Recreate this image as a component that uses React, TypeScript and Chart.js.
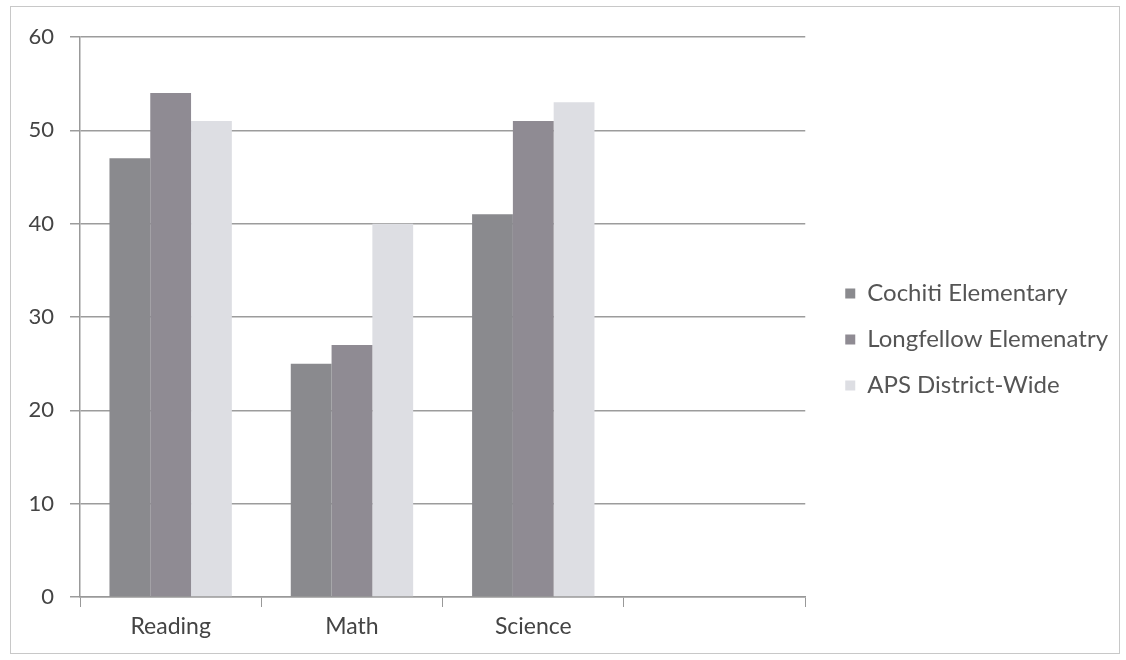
import React, { useEffect, useRef } from "react";
import { Chart, registerables } from "chart.js";

Chart.register(...registerables);

const categories = ["Reading", "Math", "Science", ""];
const cochiti = [47, 25, 41, null];
const longfellow = [54, 27, 51, null];
const apsDistrict = [51, 40, 53, null];
const seriesNames = ["Cochiti Elementary", "Longfellow Elemenatry", "APS District-Wide"];
const yTicks = [0, 10, 20, 30, 40, 50, 60];

const FONT = "Lato, 'Open Sans', sans-serif";

const legendGap = {
  id: "legendGap",
  afterLayout(chart: any) {
    const l = chart.legend;
    if (l) {
      l.left += 18;
      l.right += 18;
      l.top -= 4;
      l.bottom -= 4;
    }
  },
};

export default function App() {
  const ref = useRef<HTMLCanvasElement | null>(null);
  useEffect(() => {
    if (!ref.current) return;
    const chart = new Chart(ref.current, {
      type: "bar",
      data: {
        labels: categories,
        datasets: [
          { label: seriesNames[0], data: cochiti, backgroundColor: "#8a8a8e", borderWidth: 0 },
          { label: seriesNames[1], data: longfellow, backgroundColor: "#8f8b93", borderWidth: 0 },
          { label: seriesNames[2], data: apsDistrict, backgroundColor: "#dddee3", borderWidth: 0 },
        ],
      },
      plugins: [legendGap],
      options: {
        responsive: false,
        animation: false,
        devicePixelRatio: 1,
        layout: { padding: { left: 10, top: 37, right: 26, bottom: 10 } },
        datasets: { bar: { barPercentage: 1, categoryPercentage: 0.675 } },
        plugins: {
          tooltip: { enabled: false },
          legend: {
            position: "right",
            align: "center",
            maxWidth: 340,
            labels: {
              boxWidth: 10,
              boxHeight: 10,
              padding: 22,
              color: "#555",
              font: { family: FONT, size: 24 },
            },
          },
        },
        scales: {
          x: {
            offset: true,
            afterFit: (s: any) => { s.height = 53; },
            grid: {
              display: true,
              offset: true,
              drawOnChartArea: false,
              drawTicks: true,
              tickLength: 10,
              color: "#999",
            },
            border: { display: true, color: "#999", width: 1.5 },
            ticks: { color: "#444", padding: 6, font: { family: FONT, size: 23 } },
          },
          y: {
            min: 0,
            max: 60,
            afterFit: (s: any) => { s.width = 70; },
            afterBuildTicks: (s: any) => { s.ticks = yTicks.map((v) => ({ value: v })); },
            grid: { color: "#9c9c9c", lineWidth: 1.5, tickLength: 10 },
            border: { display: true, color: "#999", width: 1.5 },
            ticks: { color: "#444", padding: 16, font: { family: FONT, size: 22 } },
          },
        },
      },
    });
    return () => chart.destroy();
  }, []);
  return (
    <div style={{ position: "absolute", left: 0, top: 0, width: 1126, height: 660, background: "#fff" }}>
      <div
        style={{
          position: "absolute",
          left: 10,
          top: 6,
          width: 1110,
          height: 648,
          border: "1px solid #c8c8c8",
          boxSizing: "border-box",
        }}
      />
      <canvas ref={ref} width={1126} height={660} style={{ position: "absolute", left: 0, top: 0 }} />
    </div>
  );
}
